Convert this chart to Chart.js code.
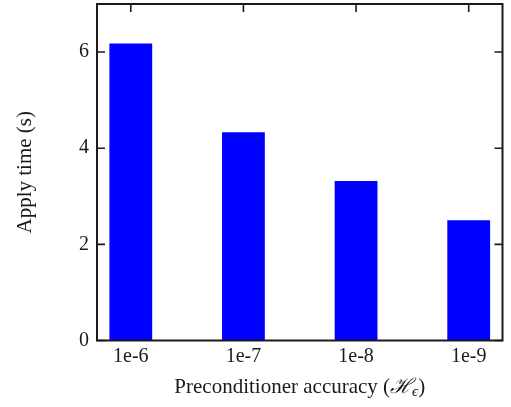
<!DOCTYPE html>
<html>
<head>
<meta charset="utf-8">
<script src="https://cdn.jsdelivr.net/npm/chart.js@4"></script>
<style>
  html, body { margin: 0; padding: 0; background: #fff; }
  #wrap { width: 511px; height: 407px; }
</style>
</head>
<body>
<div id="wrap"><canvas id="applyChart"></canvas></div>
<script>
const categories = ['1e-6', '1e-7', '1e-8', '1e-9'];
const applyTimes = [6.18, 4.33, 3.32, 2.50];
const yTickValues = [0, 2, 4, 6];
const yAxisTitle = 'Apply time (s)';
const xAxisTitle = ['Preconditioner accuracy (', '\u210B', '\u03F5', ')'];

const SERIF = '"Liberation Serif", "DejaVu Serif", serif';
const INK = '#1a1a1a';

// frame + inward ticks, matplotlib style
const framePlugin = {
  id: 'frame',
  beforeDatasetsDraw(chart) {
    const { ctx, chartArea: a, scales } = chart;
    const len = 8;
    ctx.save();
    ctx.strokeStyle = INK;
    ctx.lineWidth = 1.6;
    ctx.beginPath();
    yTickValues.forEach((v) => {
      const y = scales.y.getPixelForValue(v);
      ctx.moveTo(a.left, y); ctx.lineTo(a.left + len, y);
      ctx.moveTo(a.right, y); ctx.lineTo(a.right - len, y);
    });
    categories.forEach((c, i) => {
      const x = scales.x.getPixelForValue(i);
      ctx.moveTo(x, a.bottom); ctx.lineTo(x, a.bottom - len);
    });
    ctx.stroke();
    ctx.restore();
  },
  afterDatasetsDraw(chart) {
    const { ctx, chartArea: a, scales } = chart;
    const len = 8;
    ctx.save();
    ctx.strokeStyle = INK;
    ctx.lineWidth = 2;
    ctx.strokeRect(a.left, a.top, a.right - a.left, a.bottom - a.top);
    ctx.lineWidth = 1.6;
    ctx.beginPath();
    categories.forEach((c, i) => {
      const x = scales.x.getPixelForValue(i);
      ctx.moveTo(x, a.top); ctx.lineTo(x, a.top + len);
    });
    ctx.stroke();
    ctx.restore();
  },
  afterDraw(chart) {
    // x title with a subscript epsilon
    const { ctx, chartArea: a } = chart;
    const size = 21;
    const subSize = 15;
    const main = size + 'px ' + SERIF;
    const script = 'italic ' + size + 'px ' + SERIF;
    const sub = 'italic ' + subSize + 'px ' + SERIF;
    const parts = [
      { t: xAxisTitle[0], f: main, dy: 0 },
      { t: xAxisTitle[1], f: script, dy: 0 },
      { t: xAxisTitle[2], f: sub, dy: 3 },
      { t: xAxisTitle[3], f: main, dy: 0 },
    ];
    ctx.save();
    let total = 0;
    parts.forEach((p) => { ctx.font = p.f; p.w = ctx.measureText(p.t).width; total += p.w; });
    let x = (a.left + a.right) / 2 - total / 2;
    const base = 393;
    ctx.fillStyle = INK;
    ctx.textBaseline = 'alphabetic';
    ctx.textAlign = 'left';
    parts.forEach((p) => {
      ctx.font = p.f;
      ctx.fillText(p.t, x, base + p.dy);
      x += p.w;
    });
    ctx.restore();
  },
};

const ctx = document.getElementById('applyChart').getContext('2d');
new Chart(ctx, {
  type: 'bar',
  data: {
    datasets: [{
      data: applyTimes.map((v, i) => ({ x: i, y: v })),
      backgroundColor: '#0000ff',
      borderWidth: 0,
      barPercentage: 0.38,
      categoryPercentage: 1,
    }],
  },
  options: {
    responsive: true,
    maintainAspectRatio: false,
    animation: false,
    layout: { padding: { top: 4, right: 8.5, bottom: 0, left: 0 } },
    plugins: { legend: { display: false }, tooltip: { enabled: false } },
    scales: {
      x: {
        type: 'linear',
        offset: false,
        min: -0.3,
        max: 3.3,
        grid: { display: false, drawTicks: false, offset: false },
        border: { display: false },
        afterBuildTicks: (axis) => { axis.ticks = categories.map((c, i) => ({ value: i })); },
        afterFit: (axis) => {
          axis.height = 66.5;
          axis.paddingLeft = 0;
          axis.paddingRight = 0;
        },
        ticks: {
          color: INK,
          padding: 4,
          maxRotation: 0,
          font: { family: SERIF, size: 20 },
          callback: (v) => categories[v] ?? '',
        },
      },
      y: {
        min: 0,
        max: 7,
        grid: { display: false, drawTicks: false },
        border: { display: false },
        afterBuildTicks: (axis) => { axis.ticks = yTickValues.map((v) => ({ value: v })); },
        afterFit: (axis) => {
          axis.width = 97;
          axis.paddingTop = 0;
          axis.paddingBottom = 0;
        },
        ticks: {
          color: INK,
          padding: 8,
          font: { family: SERIF, size: 20 },
        },
        title: {
          display: true,
          text: yAxisTitle,
          color: INK,
          padding: { top: 13, bottom: 0 },
          font: { family: SERIF, size: 21 },
        },
      },
    },
  },
  plugins: [framePlugin],
});
</script>
</body>
</html>
